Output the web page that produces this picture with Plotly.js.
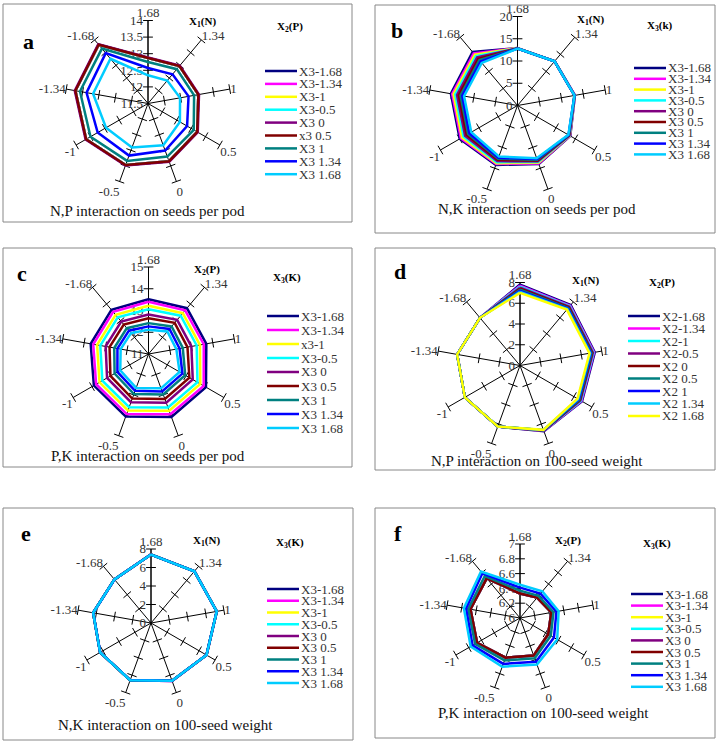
<!DOCTYPE html>
<html>
<head>
<meta charset="utf-8" />
<title>Radar charts - N, P, K interactions</title>
<script src="https://cdn.plot.ly/plotly-3.0.1.min.js"></script>
<style>
  body { margin: 0; background: #fff; }
  #plot { width: 720px; height: 743px; }
</style>
</head>
<body>
<div id="plot"></div>
<script>
// spoke categories, clockwise from the top
const levels = ['1.68', '1.34', '1', '0.5', '0', '-0.5', '-1', '-1.34', '-1.68'];

// legend names
const namesX3a = ['X3-1.68', 'X3-1.34', 'X3-1', 'X3-0.5', 'X3 0', 'x3 0.5', 'X3 1', 'X3 1.34', 'X3 1.68'];
const namesX3b = ['X3-1.68', 'X3-1.34', 'X3-1', 'X3-0.5', 'X3 0', 'X3 0.5', 'X3 1', 'X3 1.34', 'X3 1.68'];
const namesX3c = ['X3-1.68', 'X3-1.34', 'x3-1', 'X3-0.5', 'X3 0', 'X3 0.5', 'X3 1', 'X3 1.34', 'X3 1.68'];
const namesX2 = ['X2-1.68', 'X2-1.34', 'X2-1', 'X2-0.5', 'X2 0', 'X2 0.5', 'X2 1', 'X2 1.34', 'X2 1.68'];

// excel style line colours
const colorsX3 = ['#000080', '#ff00ff', '#ffff00', '#00ffff', '#800080', '#800000', '#008080', '#0000ff', '#00ccff'];
const colorsX2 = ['#000080', '#ff00ff', '#00ffff', '#800080', '#800000', '#008080', '#0000ff', '#00ccff', '#ffff00'];

// a) N,P interaction on seeds per pod (one row per X3 level)
const seedsNP = [
  [12.87, 12.97, 13.04, 13.21, 13.35, 13.47, 13.65, 13.72, 13.81],
  [12.87, 12.97, 13.04, 13.21, 13.35, 13.47, 13.65, 13.72, 13.81],
  [12.87, 12.97, 13.04, 13.21, 13.35, 13.47, 13.65, 13.72, 13.81],
  [12.87, 12.97, 13.04, 13.21, 13.35, 13.47, 13.65, 13.72, 13.81],
  [12.89, 12.99, 13.06, 13.23, 13.37, 13.49, 13.67, 13.74, 13.83],
  [12.87, 12.97, 13.04, 13.21, 13.35, 13.47, 13.65, 13.72, 13.81],
  [12.75, 12.85, 12.91, 13.09, 13.20, 13.34, 13.50, 13.58, 13.66],
  [12.57, 12.65, 12.74, 12.86, 13.01, 13.17, 13.25, 13.38, 13.48],
  [12.35, 12.40, 12.48, 12.61, 12.84, 12.91, 12.96, 13.18, 13.26]
];

// b) N,K interaction on seeds per pod
const seedsNK = [
  [12.9, 13.0, 13.1, 13.7, 14.0, 14.2, 15.0, 15.2, 15.7],
  [12.9, 13.0, 13.1, 13.6, 13.85, 14.0, 14.7, 14.9, 15.3],
  [12.9, 13.0, 13.05, 13.55, 13.7, 13.8, 14.4, 14.6, 14.9],
  [12.85, 13.0, 13.05, 13.5, 13.5, 13.55, 14.0, 14.2, 14.5],
  [12.85, 12.95, 13.05, 13.45, 13.35, 13.3, 13.6, 13.8, 14.1],
  [12.8, 12.95, 13.0, 13.4, 13.15, 13.0, 13.2, 13.4, 13.7],
  [12.8, 12.95, 13.0, 13.3, 12.95, 12.75, 12.8, 13.0, 13.3],
  [12.8, 12.95, 13.0, 13.25, 12.8, 12.5, 12.5, 12.6, 12.9],
  [12.8, 12.95, 13.0, 13.2, 12.6, 12.2, 12.0, 12.2, 12.5]
];

// c) P,K interaction on seeds per pod
const seedsPK = [
  [13.52, 13.75, 13.70, 14.05, 14.08, 14.06, 13.90, 13.70, 13.65],
  [13.40, 13.62, 13.58, 13.93, 13.95, 13.94, 13.78, 13.58, 13.53],
  [13.22, 13.45, 13.40, 13.75, 13.78, 13.76, 13.60, 13.40, 13.35],
  [13.06, 13.30, 13.25, 13.60, 13.62, 13.60, 13.45, 13.25, 13.20],
  [12.82, 13.05, 13.00, 13.35, 13.38, 13.36, 13.20, 13.00, 12.95],
  [12.64, 12.87, 12.82, 13.17, 13.20, 13.18, 13.02, 12.82, 12.77],
  [12.42, 12.65, 12.60, 12.95, 12.98, 12.96, 12.80, 12.60, 12.55],
  [12.27, 12.50, 12.45, 12.80, 12.83, 12.80, 12.65, 12.45, 12.40],
  [12.12, 12.35, 12.30, 12.65, 12.68, 12.66, 12.50, 12.30, 12.25]
];

// d) N,P interaction on 100-seed weight (one row per X2 level)
const weightNP = [
  [7.80, 7.60, 7.32, 6.90, 6.74, 6.27, 6.14, 6.15, 6.00],
  [7.70, 7.53, 7.25, 6.84, 6.72, 6.27, 6.14, 6.15, 6.00],
  [7.60, 7.46, 7.19, 6.78, 6.70, 6.26, 6.14, 6.15, 6.00],
  [7.50, 7.39, 7.13, 6.72, 6.68, 6.26, 6.14, 6.15, 6.00],
  [7.40, 7.32, 7.06, 6.66, 6.66, 6.26, 6.14, 6.15, 6.00],
  [7.30, 7.24, 7.00, 6.60, 6.64, 6.26, 6.14, 6.15, 6.00],
  [7.20, 7.17, 6.93, 6.54, 6.63, 6.26, 6.14, 6.15, 6.00],
  [7.10, 7.10, 6.87, 6.47, 6.61, 6.26, 6.14, 6.15, 6.00],
  [7.00, 7.03, 6.80, 6.40, 6.60, 6.26, 6.14, 6.15, 6.00]
];

// e) N,K interaction on 100-seed weight
const weightNK = [
  [7.42, 7.31, 7.23, 6.94, 6.66, 6.59, 6.36, 6.36, 6.16],
  [7.42, 7.31, 7.23, 6.94, 6.66, 6.59, 6.36, 6.36, 6.16],
  [7.41, 7.30, 7.22, 6.93, 6.65, 6.58, 6.35, 6.35, 6.15],
  [7.41, 7.30, 7.22, 6.93, 6.65, 6.58, 6.35, 6.35, 6.15],
  [7.40, 7.30, 7.22, 6.93, 6.65, 6.58, 6.35, 6.35, 6.15],
  [7.40, 7.30, 7.22, 6.93, 6.65, 6.58, 6.35, 6.35, 6.15],
  [7.40, 7.30, 7.21, 6.92, 6.65, 6.58, 6.35, 6.35, 6.15],
  [7.40, 7.29, 7.21, 6.92, 6.64, 6.57, 6.34, 6.34, 6.14],
  [7.40, 7.30, 7.22, 6.93, 6.65, 6.58, 6.35, 6.35, 6.15]
];

// f) P,K interaction on 100-seed weight
const weightPK = [
  [6.33, 6.36, 6.43, 6.44, 6.54, 6.57, 6.67, 6.68, 6.70],
  [6.33, 6.36, 6.43, 6.44, 6.54, 6.57, 6.67, 6.68, 6.70],
  [6.33, 6.36, 6.43, 6.44, 6.54, 6.57, 6.67, 6.68, 6.70],
  [6.33, 6.36, 6.43, 6.44, 6.54, 6.57, 6.67, 6.68, 6.70],
  [6.33, 6.36, 6.43, 6.44, 6.54, 6.57, 6.67, 6.68, 6.70],
  [6.33, 6.36, 6.43, 6.44, 6.54, 6.57, 6.67, 6.68, 6.70],
  [6.37, 6.39, 6.46, 6.48, 6.58, 6.61, 6.70, 6.71, 6.74],
  [6.41, 6.43, 6.50, 6.53, 6.63, 6.66, 6.74, 6.74, 6.79],
  [6.45, 6.47, 6.53, 6.58, 6.67, 6.70, 6.77, 6.77, 6.82]
];

// radial tick values for each panel
const ticksA = [11.5, 12, 12.5, 13, 13.5, 14];
const ticksB = [0, 5, 10, 15, 20];
const ticksC = [11, 12, 13, 14, 15];
const ticksD = [0, 2, 4, 6, 8];
const ticksE = [0, 2, 4, 6, 8];
const ticksF = [6, 6.2, 6.4, 6.6, 6.8, 7];

const W = 720, H = 743;
const fx = x => x / W;
const fy = y => 1 - y / H;
const serif = '"Liberation Serif", "Times New Roman", serif';

// page layout of each panel (pixels)
const panels = [
  {letter: 'a', data: seedsNP, names: namesX3a, colors: colorsX3, ticks: ticksA,
   cx: 148, cy: 103.5, r: 83, box: [3, 4, 352, 222],
   caption: 'N,P interaction on seeds per pod', capX: 147, capY: 211, lx: 28, ly: 42,
   h1: 'X<sub>1</sub>(N)', h1x: 202, h1y: 22, h2: 'X<sub>2</sub>(P)', h2x: 290, h2y: 27,
   legX: 265, legY: 71, legStep: 12.9},
  {letter: 'b', data: seedsNK, names: namesX3b, colors: colorsX3, ticks: ticksB,
   cx: 517.5, cy: 105.5, r: 89, box: [375, 5, 715, 233],
   caption: 'N,K interaction on seeds per pod', capX: 537, capY: 209, lx: 397, ly: 30,
   h1: 'X<sub>1</sub>(N)', h1x: 590, h1y: 20, h2: 'X<sub>3</sub>(k)', h2x: 660, h2y: 26,
   legX: 634, legY: 68, legStep: 10.8},
  {letter: 'c', data: seedsPK, names: namesX3c, colors: colorsX3, ticks: ticksC,
   cx: 148.5, cy: 354, r: 87, box: [3, 248, 352, 467],
   caption: 'P,K interaction on seeds per pod', capX: 148, capY: 456, lx: 22, ly: 273,
   h1: 'X<sub>2</sub>(P)', h1x: 207, h1y: 270, h2: 'X<sub>3</sub>(K)', h2x: 287, h2y: 278,
   legX: 267, legY: 316, legStep: 14},
  {letter: 'd', data: weightNP, names: namesX2, colors: colorsX2, ticks: ticksD,
   cx: 520, cy: 365.5, r: 83, box: [375, 248, 715, 470],
   caption: 'N,P interaction on 100-seed weight', capX: 537, capY: 461, lx: 400, ly: 272,
   h1: 'X<sub>1</sub>(N)', h1x: 585, h1y: 281, h2: 'X<sub>2</sub>(P)', h2x: 662, h2y: 283,
   legX: 628, legY: 316, legStep: 12.5},
  {letter: 'e', data: weightNK, names: namesX3b, colors: colorsX3, ticks: ticksE,
   cx: 151, cy: 623, r: 74, box: [3, 508, 353, 740],
   caption: 'N,K interaction on 100-seed weight', capX: 165, capY: 725, lx: 26, ly: 533,
   h1: 'X<sub>1</sub>(N)', h1x: 207, h1y: 541, h2: 'X<sub>3</sub>(K)', h2x: 290, h2y: 543,
   legX: 267, legY: 589, legStep: 11.75},
  {letter: 'f', data: weightPK, names: namesX3b, colors: colorsX3, ticks: ticksF,
   cx: 520, cy: 618, r: 74, box: [375, 508, 715, 738],
   caption: 'P,K interaction on 100-seed weight', capX: 543, capY: 713, lx: 398, ly: 533,
   h1: 'X<sub>2</sub>(P)', h1x: 568, h1y: 541, h2: 'X<sub>3</sub>(K)', h2x: 657, h2y: 544,
   legX: 631, legY: 594, legStep: 11.6}
];

const traces = [];
const shapes = [];
const annotations = [];
const layout = {
  width: W, height: H,
  margin: {l: 0, r: 0, t: 0, b: 0},
  paper_bgcolor: '#fff',
  showlegend: false,
  font: {family: serif, color: '#222'}
};

// text placed on the page, centred on (x, y) unless told otherwise
function note(x, y, text, size, color, xanchor) {
  return {xref: 'paper', yref: 'paper', x: fx(x), y: fy(y), text: text,
    xanchor: xanchor || 'center', yanchor: 'middle', showarrow: false,
    font: {family: serif, size: size, color: color}};
}

panels.forEach(function (p, n) {
  const sub = n === 0 ? 'polar' : 'polar' + (n + 1);

  // small cross ticks on every spoke
  const tickR = [], tickT = [], tickA = [];
  levels.forEach(function (lv, i) {
    p.ticks.slice(1).forEach(function (t) {
      tickR.push(t); tickT.push(lv); tickA.push(i * 40);
    });
  });
  traces.push({
    type: 'scatterpolar', subplot: sub, mode: 'markers', hoverinfo: 'skip',
    r: tickR, theta: tickT,
    marker: {symbol: 'line-ew', size: 7, angle: tickA, line: {width: 1, color: '#000'}}
  });

  // one closed polygon per level
  p.data.forEach(function (row, i) {
    traces.push({
      type: 'scatterpolar', subplot: sub, mode: 'lines', name: p.names[i],
      r: row.concat(row[0]), theta: levels.concat(levels[0]),
      line: {color: p.colors[i], width: 2.5}
    });
  });

  const lo = p.ticks[0], hi = p.ticks[p.ticks.length - 1];
  layout[sub] = {
    domain: {x: [fx(p.cx - p.r), fx(p.cx + p.r)], y: [fy(p.cy + p.r), fy(p.cy - p.r)]},
    bgcolor: 'rgba(0,0,0,0)',
    angularaxis: {
      type: 'category', categoryarray: levels, rotation: 90, direction: 'clockwise',
      showline: false, showgrid: true, gridcolor: '#000', gridwidth: 1, ticks: '',
      tickfont: {family: serif, size: 13, color: '#333'}
    },
    radialaxis: {
      range: [lo, hi], tickvals: p.ticks, angle: 90, side: 'counterclockwise', tickangle: 90,
      showline: true, linecolor: '#000', linewidth: 1, showgrid: false, ticks: '',
      layer: 'below traces', tickfont: {family: serif, size: 13, color: '#333'}
    }
  };

  // panel frame
  shapes.push({type: 'rect', xref: 'paper', yref: 'paper',
    x0: fx(p.box[0]), x1: fx(p.box[2]), y0: fy(p.box[3]), y1: fy(p.box[1]),
    line: {color: '#888', width: 1}});

  // legend drawn by hand so that the rows stay tight
  p.names.forEach(function (nm, i) {
    const y = p.legY + i * p.legStep;
    shapes.push({type: 'line', xref: 'paper', yref: 'paper',
      x0: fx(p.legX), x1: fx(p.legX + 32), y0: fy(y), y1: fy(y),
      line: {color: p.colors[i], width: 2.5}});
    annotations.push(note(p.legX + 32, y, nm, 13, '#333', 'left'));
  });

  annotations.push(
    note(p.lx, p.ly, '<b>' + p.letter + '</b>', 22, '#000'),
    note(p.h1x, p.h1y, '<b>' + p.h1 + '</b>', 11, '#000'),
    note(p.h2x, p.h2y, '<b>' + p.h2 + '</b>', 11, '#000'),
    note(p.capX, p.capY, p.caption, 15, '#111')
  );
});

layout.shapes = shapes;
layout.annotations = annotations;

Plotly.newPlot('plot', traces, layout, {staticPlot: true});
</script>
</body>
</html>
